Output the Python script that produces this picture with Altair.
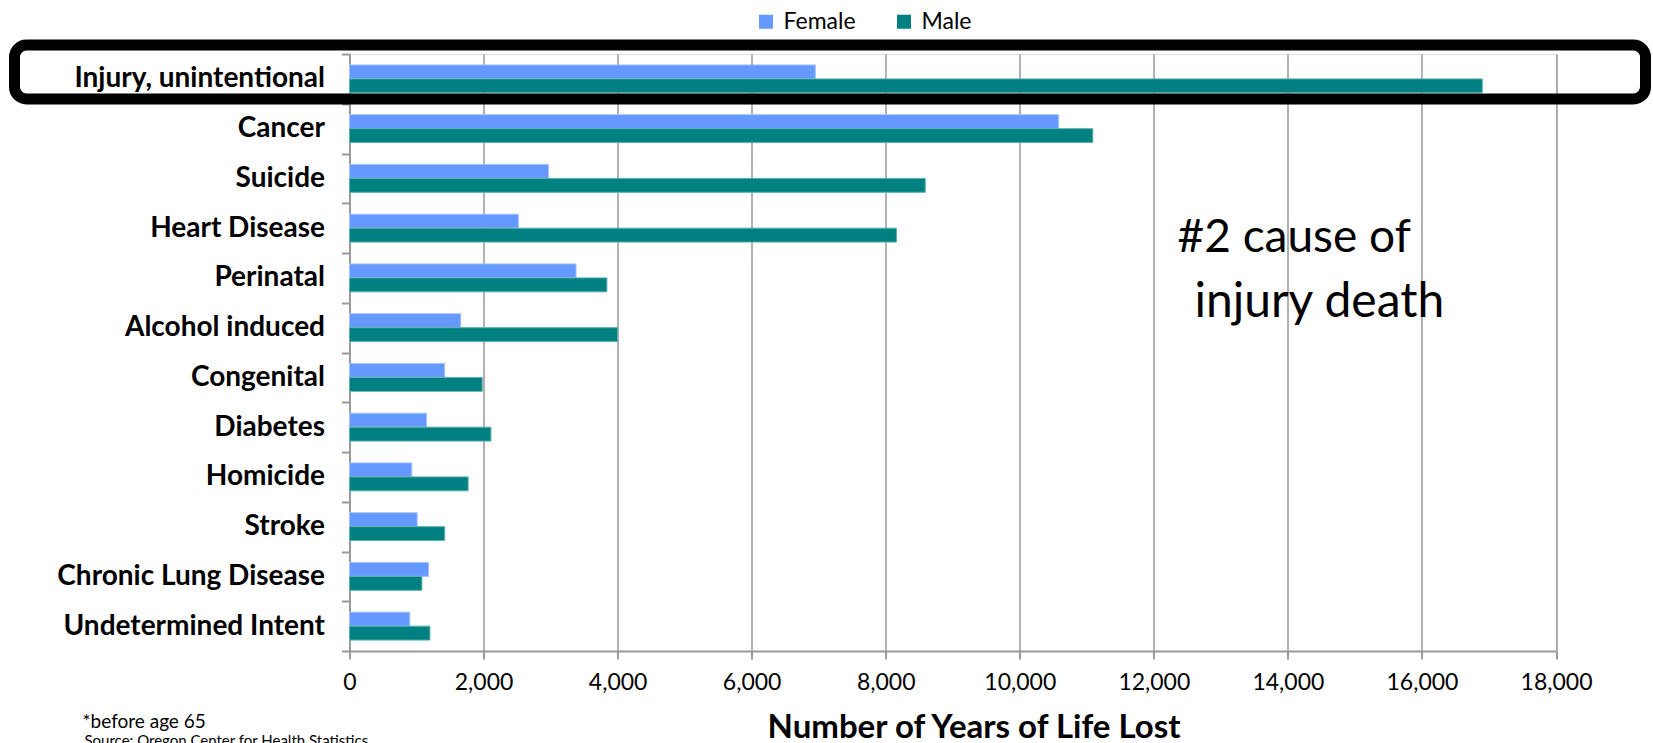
import altair as alt
import pandas as pd

causes = ["Injury, unintentional", "Cancer", "Suicide", "Heart Disease", "Perinatal",
          "Alcohol induced", "Congenital", "Diabetes", "Homicide", "Stroke",
          "Chronic Lung Disease", "Undetermined Intent"]
female = [6950, 10580, 2970, 2520, 3380, 1660, 1420, 1150, 930, 1010, 1180, 900]
male = [16900, 11090, 8590, 8160, 3840, 4000, 1980, 2110, 1770, 1420, 1080, 1200]
sexes = ["Female", "Male"]
sex_colors = ["#6699ff", "#008080"]
sex_strokes = ["#a6c2ff", "#5fb0b0"]
x_ticks = [0, 2000, 4000, 6000, 8000, 10000, 12000, 14000, 16000, 18000]

rows = []
for c, f, m in zip(causes, female, male):
    rows.append({"cause": c, "sex": "Female", "value": f})
    rows.append({"cause": c, "sex": "Male", "value": m})
df = pd.DataFrame(rows)

FONT = "Lato"
GRAY = "#999999"

bars = alt.Chart(df).mark_bar(strokeWidth=1).encode(
    y=alt.Y("cause:N", sort=causes,
            scale=alt.Scale(paddingInner=0, paddingOuter=0),
            axis=alt.Axis(title=None, tickBand="extent", labelFont=FONT, labelFontSize=28,
                          labelFontWeight="bold", labelColor="black", labelPadding=17,
                          domainColor=GRAY, domainWidth=2, tickColor=GRAY, tickWidth=2,
                          tickSize=8, labelLimit=400)),
    yOffset=alt.YOffset("sex:N", sort=sexes,
                        scale=alt.Scale(paddingInner=0, paddingOuter=0.78)),
    x=alt.X("value:Q", scale=alt.Scale(domain=[0, 18000], nice=False),
            axis=alt.Axis(values=x_ticks, format=",d", title="Number of Years of Life Lost",
                          labelFont=FONT, labelFontSize=23, labelColor="black", labelPadding=12,
                          labelFlush=False,
                          titleFont=FONT, titleFontSize=33, titleFontWeight="bold",
                          titleColor="black", titleX=624, titleY=86, titleAlign="center",
                          titleBaseline="alphabetic", grid=True, gridColor=GRAY, gridWidth=1.5,
                          domainColor=GRAY, domainWidth=2, tickColor=GRAY, tickWidth=2,
                          tickSize=8)),
    color=alt.Color("sex:N", sort=sexes, title=None,
                    scale=alt.Scale(domain=sexes, range=sex_colors),
                    legend=alt.Legend(orient="none", legendX=405, legendY=-44,
                                      direction="horizontal", symbolType="square",
                                      symbolSize=196, symbolStrokeWidth=0,
                                      labelFont=FONT, labelFontSize=23, labelColor="black",
                                      labelOffset=6, columnPadding=36, padding=0)),
    stroke=alt.Stroke("sex:N", sort=sexes, scale=alt.Scale(domain=sexes, range=sex_strokes),
                      legend=None),
)

one = pd.DataFrame({"k": [0]})

box = alt.Chart(one).mark_rect(stroke="black", strokeWidth=11, fillOpacity=0,
                               cornerRadius=12).encode(
    x=alt.value(-335), x2=alt.value(1296), y=alt.value(-9), y2=alt.value(45))

ann_lines = ["#2 cause of", "injury death"]
ann1 = alt.Chart(one).mark_text(text=ann_lines[0], font=FONT, fontSize=46, align="left",
                                baseline="alphabetic", color="black").encode(
    x=alt.value(828), y=alt.value(198))
ann2 = alt.Chart(one).mark_text(text=ann_lines[1], font=FONT, fontSize=48, align="left",
                                baseline="alphabetic", color="black").encode(
    x=alt.value(845), y=alt.value(263))

notes = ["*before age 65", "Source: Oregon Center for Health Statistics"]
note1 = alt.Chart(one).mark_text(text=notes[0], font=FONT, fontSize=19, align="left",
                                 baseline="alphabetic", color="black").encode(
    x=alt.value(-267), y=alt.value(674))
note2 = alt.Chart(one).mark_text(text=notes[1], font=FONT, fontSize=15, align="left",
                                 baseline="alphabetic", color="black").encode(
    x=alt.value(-265), y=alt.value(692))

chart = alt.layer(bars, box, ann1, ann2, note1, note2).properties(
    width=1206.5, height=597, autosize="none",
    padding={"left": 349.5, "top": 54, "right": 97, "bottom": 92},
).configure_view(strokeWidth=0).configure(background="white")

chart.save("out.html", embed_options={"renderer": "svg", "actions": False})
